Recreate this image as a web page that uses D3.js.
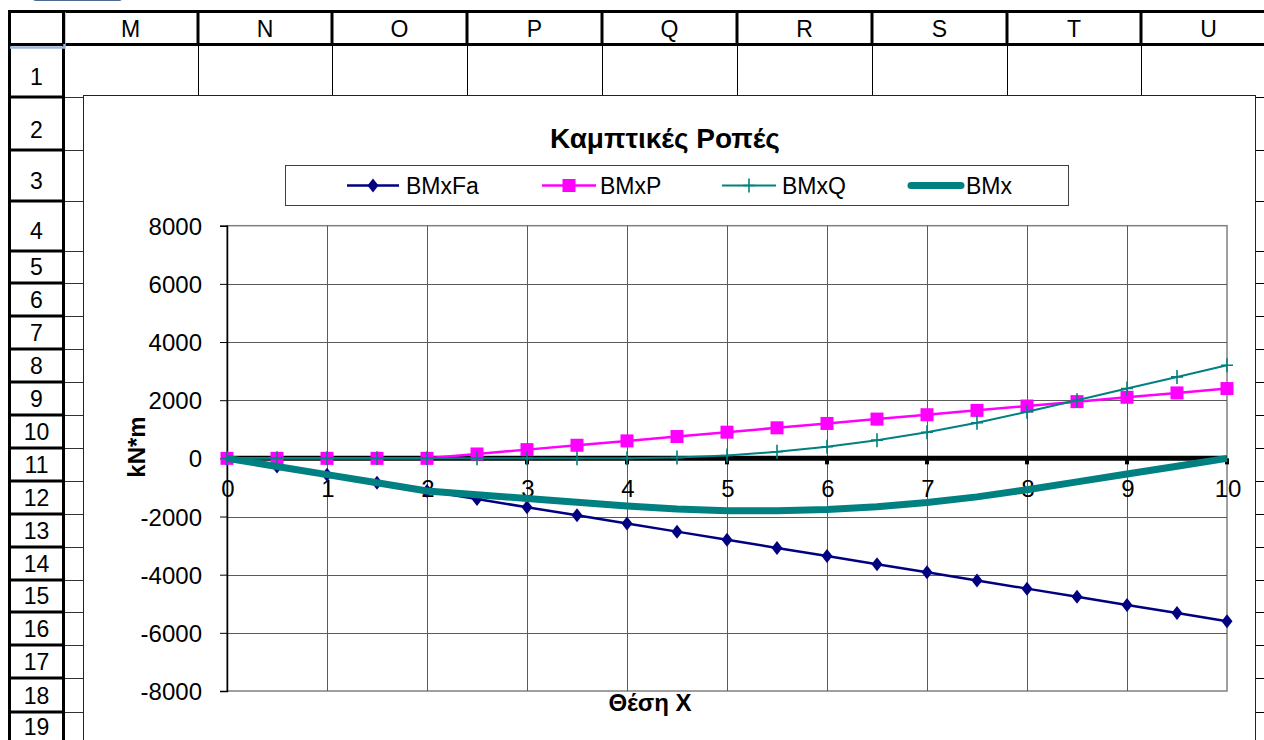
<!DOCTYPE html>
<html><head><meta charset="utf-8">
<script src="https://cdn.jsdelivr.net/npm/d3@7"></script>
<style>body{margin:0;background:#fff;overflow:hidden}svg{display:block;font-family:"Liberation Sans",Arial,sans-serif}</style>
</head><body><svg id="c" width="1264" height="740"></svg>
<script>
// ---------- DATA ----------
const xValues = [0,0.5,1,1.5,2,2.5,3,3.5,4,4.5,5,5.5,6,6.5,7,7.5,8,8.5,9,9.5,10];
const bmxFa = [0,-280,-560,-840,-1120,-1400,-1680,-1960,-2240,-2520,-2800,-3080,-3360,-3640,-3920,-4200,-4480,-4760,-5040,-5320,-5600];
const bmxP  = [0,0,0,0,0,150,300,450,600,750,900,1050,1200,1350,1500,1650,1800,1950,2100,2250,2400];
const bmxQ  = [0,0,0,0,0,0,0,0,0,25,100,225,400,625,900,1225,1600,2000,2400,2800,3200];
const bmx   = [0,-280,-560,-840,-1120,-1250,-1380,-1510,-1640,-1745,-1800,-1805,-1760,-1665,-1520,-1325,-1080,-810,-540,-270,0];
const yTickValues = [-8000,-6000,-4000,-2000,0,2000,4000,6000,8000];
const xTickValues = [0,1,2,3,4,5,6,7,8,9,10];
const seriesNames = ["BMxFa","BMxP","BMxQ","BMx"];
const columnLetters = ["M","N","O","P","Q","R","S","T","U"];
const rowNumbers = [1,2,3,4,5,6,7,8,9,10,11,12,13,14,15,16,17,18,19];
const chartTitle = "Καμπτικές Ροπές";
const yAxisTitle = "kN*m";
const xAxisTitle = "Θέση X";

// ---------- LAYOUT ----------
const svg = d3.select("#c");
const colEdges = [63,198,332,467,602,737,872,1007,1141,1290];
const rowEdges = [44,97,150,201,251,283,316,349,382,415,448,481,514,547,580,612,645,678,712,745];
const chartBox = {x:83, y:95, r:1255};
const plot = {l:227, r:1227, t:225.7, b:691};

svg.append("rect").attr("width",1264).attr("height",740).attr("fill","#fff");

// spreadsheet
const sheet = svg.append("g");
sheet.append("rect").attr("x",33).attr("y",-4).attr("width",89).attr("height",5).attr("rx",3).attr("fill","#4d6b94");
sheet.append("line").attr("x1",8).attr("x2",1264).attr("y1",11.5).attr("y2",11.5).attr("stroke","#000").attr("stroke-width",3);
sheet.append("line").attr("x1",8).attr("x2",1264).attr("y1",44.5).attr("y2",44.5).attr("stroke","#000").attr("stroke-width",3);
colEdges.slice(1,-1).forEach(x=>{
  sheet.append("line").attr("x1",x).attr("x2",x).attr("y1",11).attr("y2",44).attr("stroke","#000").attr("stroke-width",3);
  sheet.append("line").attr("x1",x+0.5).attr("x2",x+0.5).attr("y1",44).attr("y2",chartBox.y).attr("stroke","#000").attr("stroke-width",1);
});
sheet.append("line").attr("x1",9.5).attr("x2",9.5).attr("y1",10).attr("y2",740).attr("stroke","#000").attr("stroke-width",3);
sheet.append("line").attr("x1",63.5).attr("x2",63.5).attr("y1",44).attr("y2",740).attr("stroke","#000").attr("stroke-width",3);
rowEdges.slice(1).forEach(y=>{
  sheet.append("line").attr("x1",8).attr("x2",64).attr("y1",y).attr("y2",y).attr("stroke","#000").attr("stroke-width",3);
  sheet.append("line").attr("x1",65).attr("x2",chartBox.x).attr("y1",y+0.5).attr("y2",y+0.5).attr("stroke","#333").attr("stroke-width",1);
  sheet.append("line").attr("x1",chartBox.r).attr("x2",1264).attr("y1",y+0.5).attr("y2",y+0.5).attr("stroke","#000").attr("stroke-width",1);
});
sheet.append("path").attr("d","M10,47.5 H64.5 V12").attr("fill","none").attr("stroke","#9fb8d6").attr("stroke-width",2.5);
sheet.append("line").attr("x1",63.5).attr("x2",63.5).attr("y1",11).attr("y2",44).attr("stroke","#000").attr("stroke-width",3);
sheet.selectAll("text.col").data(columnLetters).join("text")
  .attr("x",(d,i)=>(colEdges[i]+Math.min(colEdges[i+1],1276))/2).attr("y",37)
  .attr("text-anchor","middle").attr("font-size",23).text(d=>d);
sheet.selectAll("text.row").data(rowNumbers).join("text")
  .attr("x",36.5).attr("y",(d,i)=>Math.min(735,rowEdges[i+1]-((rowEdges[i+1]-rowEdges[i])>40?12:8)))
  .attr("text-anchor","middle").attr("font-size",23).text(d=>d);

// chart box
svg.append("rect").attr("x",chartBox.x+0.5).attr("y",chartBox.y+0.5).attr("width",chartBox.r-chartBox.x).attr("height",700)
  .attr("fill","#fff").attr("stroke","#222").attr("stroke-width",1);

// title
svg.append("text").attr("x",665).attr("y",148).attr("text-anchor","middle").attr("font-size",28).attr("font-weight","bold").text(chartTitle);

// scales
const x = d3.scaleLinear().domain([0,10]).range([plot.l,plot.r]);
const y = d3.scaleLinear().domain([-8000,8000]).range([plot.b,plot.t]);

svg.append("rect").attr("x",plot.l).attr("y",plot.t).attr("width",plot.r-plot.l).attr("height",plot.b-plot.t)
  .attr("fill","#fff").attr("stroke","#808080").attr("stroke-width",1.5);
svg.append("g").selectAll("line").data(yTickValues.slice(1,-1)).join("line")
  .attr("x1",plot.l).attr("x2",plot.r).attr("y1",d=>Math.round(y(d))+0.5).attr("y2",d=>Math.round(y(d))+0.5)
  .attr("stroke","#5a5a5a").attr("stroke-width",1);
svg.append("g").selectAll("line").data(xTickValues.slice(1,-1)).join("line")
  .attr("y1",plot.t).attr("y2",plot.b).attr("x1",d=>Math.round(x(d))+0.5).attr("x2",d=>Math.round(x(d))+0.5)
  .attr("stroke","#5a5a5a").attr("stroke-width",1);

const yAxis = svg.append("g").attr("transform",`translate(${plot.l},0)`)
  .call(d3.axisLeft(y).tickValues(yTickValues).tickSize(7).tickPadding(18).tickFormat(d=>String(d)));
yAxis.select(".domain").attr("stroke","#000").attr("stroke-width",1.5);
yAxis.selectAll(".tick line").attr("stroke","#000");
yAxis.selectAll(".tick text").attr("font-size",24).attr("font-family","Liberation Sans, Arial, sans-serif").attr("fill","#000").attr("dy","0.36em");

const y0 = y(0);
svg.append("line").attr("x1",plot.l).attr("x2",plot.r).attr("y1",y0).attr("y2",y0).attr("stroke","#000").attr("stroke-width",5);
svg.append("g").selectAll("line").data(xTickValues).join("line")
  .attr("x1",d=>x(d)).attr("x2",d=>x(d)).attr("y1",y0).attr("y2",y0+6).attr("stroke","#000").attr("stroke-width",4);
svg.append("g").selectAll("text").data(xTickValues).join("text")
  .attr("x",d=>x(d)+1).attr("y",y0+39).attr("text-anchor","middle").attr("font-size",24).text(d=>d);

svg.append("text").attr("transform","translate(145,447) rotate(-90)").attr("text-anchor","middle")
  .attr("font-size",24).attr("font-weight","bold").text(yAxisTitle);
svg.append("text").attr("x",650).attr("y",711).attr("text-anchor","middle")
  .attr("font-size",24).attr("font-weight","bold").text(xAxisTitle);

// series
const line = vals => d3.line().x((d,i)=>x(xValues[i])).y(d=>y(d))(vals);
const g = svg.append("g");
g.append("path").attr("d",line(bmxFa)).attr("fill","none").attr("stroke","#000080").attr("stroke-width",2.5);
g.selectAll("path.fa").data(bmxFa).join("path").attr("class","fa")
  .attr("transform",(d,i)=>`translate(${x(xValues[i])},${y(d)})`)
  .attr("d","M0,-7 L5.5,0 L0,7 L-5.5,0 Z").attr("fill","#000080");
g.append("path").attr("d",line(bmxP)).attr("fill","none").attr("stroke","#ff00ff").attr("stroke-width",2.5);
g.selectAll("rect.p").data(bmxP).join("rect").attr("class","p")
  .attr("x",(d,i)=>x(xValues[i])-6.5).attr("y",d=>y(d)-6.5).attr("width",13).attr("height",13).attr("fill","#ff00ff");
g.append("path").attr("d",line(bmxQ)).attr("fill","none").attr("stroke","#008080").attr("stroke-width",2);
g.selectAll("path.q").data(bmxQ).join("path").attr("class","q")
  .attr("transform",(d,i)=>`translate(${x(xValues[i])},${y(d)})`)
  .attr("d","M-6,0 H6 M0,-7 V7").attr("stroke","#008080").attr("stroke-width",1.6).attr("fill","none");
g.append("path").attr("d",line(bmx)).attr("fill","none").attr("stroke","#008080").attr("stroke-width",7).attr("stroke-linejoin","round");

// legend
svg.append("rect").attr("x",285.5).attr("y",165.5).attr("width",783).attr("height",40).attr("fill","#fff").attr("stroke","#404040");
const legendX = [347,542,722,908];
const leg = svg.append("g");
seriesNames.forEach((name,i)=>{
  const lx = legendX[i], ly = 185.5;
  const item = leg.append("g");
  if(i===0){
    item.append("line").attr("x1",lx).attr("x2",lx+52).attr("y1",ly).attr("y2",ly).attr("stroke","#000080").attr("stroke-width",2.5);
    item.append("path").attr("transform",`translate(${lx+26},${ly})`).attr("d","M0,-7 L5.5,0 L0,7 L-5.5,0 Z").attr("fill","#000080");
  } else if(i===1){
    item.append("line").attr("x1",lx).attr("x2",lx+54).attr("y1",ly).attr("y2",ly).attr("stroke","#ff00ff").attr("stroke-width",2.5);
    item.append("rect").attr("x",lx+27-6.5).attr("y",ly-6.5).attr("width",13).attr("height",13).attr("fill","#ff00ff");
  } else if(i===2){
    item.append("line").attr("x1",lx).attr("x2",lx+54).attr("y1",ly).attr("y2",ly).attr("stroke","#008080").attr("stroke-width",2);
    item.append("path").attr("transform",`translate(${lx+27},${ly})`).attr("d","M-6,0 H6 M0,-7 V7").attr("stroke","#008080").attr("stroke-width",1.6);
  } else {
    item.append("line").attr("x1",lx+3).attr("x2",lx+53).attr("y1",ly).attr("y2",ly).attr("stroke","#008080").attr("stroke-width",7).attr("stroke-linecap","round");
  }
  item.append("text").attr("x",[406,600,782,966][i]).attr("y",ly+8.5).attr("font-size",23).text(name);
});
</script></body></html>
